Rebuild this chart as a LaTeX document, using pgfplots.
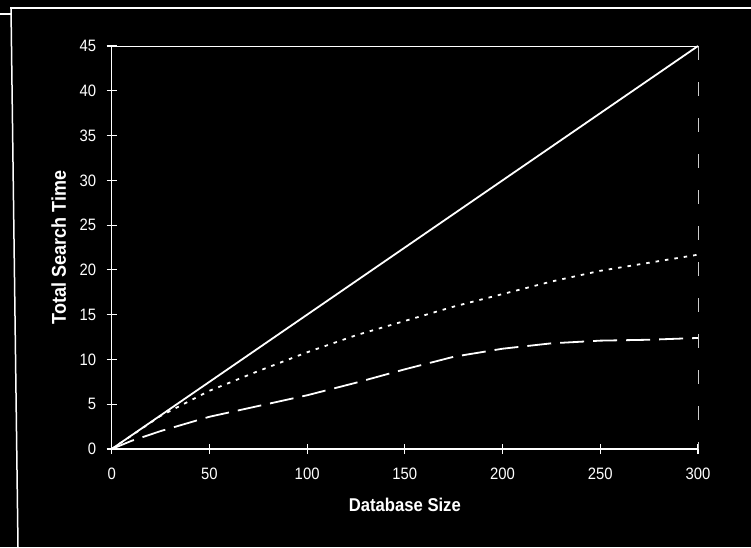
\documentclass[border=0pt]{standalone}
\usepackage{fontspec}
\setmainfont{Liberation Sans}
\newfontfamily\narrowfont[FakeStretch=0.9]{Liberation Sans}
\usepackage{pgfplots}
\pgfplotsset{compat=1.18}
\begin{document}
\begin{tikzpicture}[x=1pt,y=1pt]
\useasboundingbox (0,0) rectangle (751,547);
\fill[black] (0,0) rectangle (751,547);
\draw[white, line width=1.5pt] (0,533) -- (11,533);
\draw[white, line width=1.5pt] (10,539) -- (751,539);
\draw[white, line width=1.5pt] (11,539) -- (18,0);
\begin{axis}[
  at={(111.7pt,98pt)}, anchor=south west,
  scale only axis, width=586.3pt, height=403pt,
  xmin=0, xmax=300, ymin=0, ymax=45,
  axis lines=left,
  axis line style={white, line width=1.2pt, -},
  xtick={0,50,...,300}, ytick={0,5,...,45},
  tick align=center, major tick length=10pt,
  tick style={white, line width=1.2pt},
  ticklabel style={white, font=\narrowfont\fontsize{16.5}{16.5}\selectfont},
  yticklabel style={xshift=-7pt},
  xticklabel style={yshift=-10pt},
  /pgf/number format/assume math mode=true,
  xlabel={Database Size}, ylabel={Total Search Time},
  every axis x label/.style={at={(axis description cs:0.5,0)}, yshift=-56pt, anchor=center, white, font=\narrowfont\bfseries\fontsize{18.5}{18.5}\selectfont},
  every axis y label/.style={at={(axis description cs:0,0.5)}, xshift=-53pt, rotate=90, anchor=center, white, font=\narrowfont\bfseries\fontsize{20}{20}\selectfont},
  clip=false,
]
\draw[white, line width=1pt] (axis cs:0,45) -- (axis cs:300,45);
\draw[white!80!black, line width=1pt, dash pattern=on 14pt off 22pt] (axis cs:300,45) -- (axis cs:300,0);
\addplot[white, line width=1.8pt, mark=none] coordinates {(0,0) (300,45)};
\addplot[white, line width=1.8pt, mark=none, dash pattern=on 3.5pt off 6pt] coordinates {
(0,0) (25,3.7) (50,6.5) (75,8.7) (100,10.8) (125,12.7) (150,14.3) (175,15.9) (200,17.3) (225,18.7) (250,19.9) (275,20.8) (300,21.7)};
\addplot[white, line width=1.8pt, mark=none, dash pattern=on 24pt off 9pt] coordinates {
(0,0) (10,0.9) (25,2) (50,3.6) (75,4.8) (100,6.0) (125,7.4) (150,8.9) (175,10.3) (200,11.2) (225,11.8) (250,12.1) (275,12.2) (300,12.4)};
\end{axis}
\end{tikzpicture}
\end{document}
